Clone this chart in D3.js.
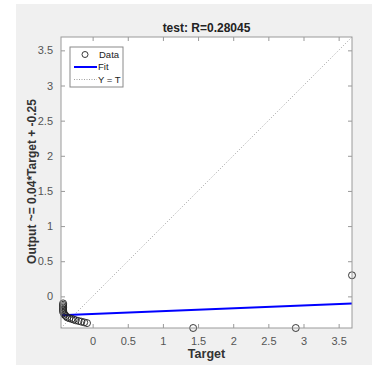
<!DOCTYPE html>
<html>
<head>
<meta charset="utf-8">
<script src="https://cdn.jsdelivr.net/npm/d3@7"></script>
<style>
  body { margin: 0; background: #fff; }
  svg { display: block; font-family: "Liberation Sans", Arial, sans-serif; }
</style>
</head>
<body>
<svg id="chart" width="378" height="381"></svg>
<script>
// regression plot data
const targets = [-0.42, -0.42, -0.42, -0.42, -0.42, -0.42, -0.42, -0.41, -0.40, -0.38, -0.36, -0.33, -0.30, -0.27, -0.24, -0.20, -0.16, -0.12, -0.08, 1.43, 2.89, 3.69];
const outputs = [-0.10, -0.12, -0.14, -0.16, -0.18, -0.20, -0.22, -0.24, -0.26, -0.28, -0.30, -0.31, -0.32, -0.33, -0.34, -0.35, -0.36, -0.37, -0.38, -0.45, -0.45, 0.30];
const fitCoef = [0.04, -0.25];
const axisRange = [-0.45, 3.69];
const tickValues = [0, 0.5, 1, 1.5, 2, 2.5, 3, 3.5];
const titleText = 'test: R=0.28045';
const legendLabels = ['Data', 'Fit', 'Y = T'];

const svg = d3.select('#chart');
const margin = { left: 61, right: 26, top: 37, bottom: 53 };
const plotW = 352 - margin.left;
const plotH = 328 - margin.top;

// figure background
svg.append('rect').attr('x', 16).attr('y', 4).attr('width', 356).attr('height', 361).attr('fill', '#f0f0f0');

const x = d3.scaleLinear().domain(axisRange).range([0, plotW]);
const y = d3.scaleLinear().domain(axisRange).range([plotH, 0]);

const g = svg.append('g').attr('transform', 'translate(' + margin.left + ',' + margin.top + ')');
g.append('rect').attr('width', plotW).attr('height', plotH).attr('fill', '#fff');

// axes with inward ticks on all four sides
const tickColor = '#555';
function styleAxis(sel, showText) {
  sel.select('.domain').remove();
  sel.selectAll('.tick line').attr('stroke', '#999');
  sel.selectAll('.tick text').attr('fill', tickColor).attr('font-size', 11);
  if (!showText) sel.selectAll('.tick text').remove();
}
g.append('g').attr('transform', 'translate(0,' + plotH + ')')
  .call(d3.axisBottom(x).tickValues(tickValues).tickSize(-4).tickPadding(9).tickFormat(d3.format('')))
  .call(styleAxis, true);
g.append('g')
  .call(d3.axisTop(x).tickValues(tickValues).tickSize(-4))
  .call(styleAxis, false);
g.append('g')
  .call(d3.axisLeft(y).tickValues(tickValues).tickSize(-4).tickPadding(8).tickFormat(d3.format('')))
  .call(styleAxis, true);
g.append('g').attr('transform', 'translate(' + plotW + ',0)')
  .call(d3.axisRight(y).tickValues(tickValues).tickSize(-4))
  .call(styleAxis, false);

// Y = T line
g.append('line')
  .attr('x1', x(axisRange[0])).attr('y1', y(axisRange[0]))
  .attr('x2', x(axisRange[1])).attr('y2', y(axisRange[1]))
  .attr('stroke', '#888').attr('stroke-width', 0.8).attr('stroke-dasharray', '1,2');

// fit line
const fit = t => fitCoef[0] * t + fitCoef[1];
g.append('line')
  .attr('x1', x(axisRange[0])).attr('y1', y(fit(axisRange[0])))
  .attr('x2', x(axisRange[1])).attr('y2', y(fit(axisRange[1])))
  .attr('stroke', '#0000ff').attr('stroke-width', 2);

// data circles
g.selectAll('circle.pt')
  .data(targets.map((t, i) => [t, outputs[i]]))
  .enter().append('circle')
  .attr('class', 'pt')
  .attr('cx', d => x(d[0]))
  .attr('cy', d => y(d[1]))
  .attr('r', 3.5)
  .attr('fill', 'none')
  .attr('stroke', '#222')
  .attr('stroke-width', 0.9);

// box
g.append('rect').attr('width', plotW).attr('height', plotH)
  .attr('fill', 'none').attr('stroke', '#9a9a9a').attr('stroke-width', 1);

// legend
const lg = g.append('g').attr('transform', 'translate(9,10)');
lg.append('rect').attr('width', 53).attr('height', 40)
  .attr('fill', '#fff').attr('stroke', '#8a8a8a').attr('stroke-width', 1);
lg.append('circle').attr('cx', 15).attr('cy', 7.5).attr('r', 3)
  .attr('fill', 'none').attr('stroke', '#222').attr('stroke-width', 0.9);
lg.append('line').attr('x1', 4).attr('x2', 27).attr('y1', 20).attr('y2', 20)
  .attr('stroke', '#0000ff').attr('stroke-width', 2);
lg.append('line').attr('x1', 4).attr('x2', 27).attr('y1', 32.5).attr('y2', 32.5)
  .attr('stroke', '#888').attr('stroke-width', 0.8).attr('stroke-dasharray', '1,1.5');
lg.selectAll('text.lab')
  .data(legendLabels)
  .enter().append('text')
  .attr('class', 'lab')
  .attr('x', (d, i) => i === 0 ? 29 : 28)
  .attr('y', (d, i) => 7.5 + i * 12.5)
  .attr('dy', '0.35em')
  .attr('font-size', 9.5)
  .attr('fill', '#222')
  .text(d => d);

// title and labels
svg.append('text').attr('x', margin.left + plotW / 2).attr('y', 32)
  .attr('text-anchor', 'middle').attr('font-size', 12).attr('font-weight', 'bold')
  .attr('fill', '#222').text(titleText);
svg.append('text').attr('x', margin.left + plotW / 2).attr('y', 358)
  .attr('text-anchor', 'middle').attr('font-size', 12.5).attr('font-weight', 'bold')
  .attr('fill', '#333').text('Target');
const yLab = svg.append('text')
  .attr('transform', 'translate(36,181.5) rotate(-90)')
  .attr('text-anchor', 'middle').attr('font-size', 12).attr('font-weight', 'bold')
  .attr('fill', '#333').text('Output ~= 0.04*Target + -0.25');
// shrink the y label to the width seen in the picture
const yLen = yLab.node().getComputedTextLength();
yLab.attr('font-size', 12 * 165 / yLen);
</script>
</body>
</html>
